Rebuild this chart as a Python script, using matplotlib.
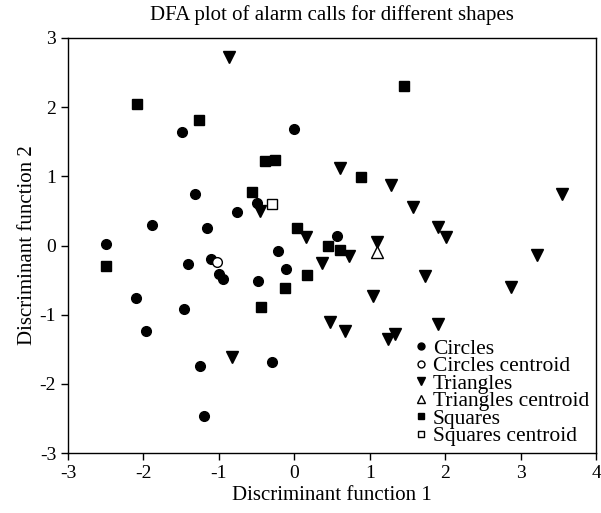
import matplotlib
matplotlib.use("Agg")
import matplotlib.pyplot as plt
from matplotlib.lines import Line2D

plt.rcParams['font.family'] = ['Liberation Serif', 'DejaVu Serif']
plt.rcParams['axes.unicode_minus'] = False

circles_x = [-1.49, 0.00, -1.32, -0.49, -0.76, -1.88, -1.16, -2.49, -0.22, 0.57, -1.41,
             -1.10, -1.00, -0.95, -0.11, -0.48, -2.10, -1.46, -1.96, -1.25, -0.30, -1.20]
circles_y = [1.64, 1.69, 0.74, 0.62, 0.48, 0.30, 0.25, 0.02, -0.08, 0.14, -0.27,
             -0.19, -0.41, -0.49, -0.34, -0.52, -0.76, -0.92, -1.24, -1.74, -1.68, -2.47]
circles_centroid = (-1.02, -0.24)

triangles_x = [-0.86, -0.45, 0.16, 0.60, 1.28, 3.55, 1.57, 1.90, 2.01, 1.10, 0.73,
               0.37, 3.22, 1.73, 2.87, 1.05, 0.47, 0.67, 1.24, 1.33, 1.91, -0.82]
triangles_y = [2.72, 0.50, 0.12, 1.12, 0.88, 0.75, 0.55, 0.27, 0.13, 0.05, -0.15,
               -0.25, -0.14, -0.44, -0.60, -0.73, -1.11, -1.24, -1.35, -1.28, -1.13, -1.61]
triangles_centroid = (1.10, -0.09)

squares_x = [-2.08, -1.26, 1.45, -0.39, -0.25, -0.56, 0.88, 0.03, 0.45, 0.60, -2.50,
             0.17, -0.12, -0.44]
squares_y = [2.05, 1.82, 2.31, 1.22, 1.24, 0.78, 0.99, 0.25, 0.00, -0.07, -0.30,
             -0.43, -0.61, -0.89]
squares_centroid = (-0.29, 0.60)

x_ticks = [-3, -2, -1, 0, 1, 2, 3, 4]
y_ticks = [-3, -2, -1, 0, 1, 2, 3]

fig = plt.figure(figsize=(6.01, 5.13), dpi=100)
ax = fig.add_axes([68/601, 1-453/513, (596-68)/601, (453-38)/513])

ax.plot(circles_x, circles_y, 'o', color='black', ms=7, ls='none')
ax.plot(*circles_centroid, 'o', mfc='white', mec='black', ms=7, mew=1)
ax.plot(triangles_x, triangles_y, 'v', color='black', ms=8, ls='none')
ax.plot(*triangles_centroid, '^', mfc='white', mec='black', ms=8, mew=1)
ax.plot(squares_x, squares_y, 's', color='black', ms=7, ls='none')
ax.plot(*squares_centroid, 's', mfc='white', mec='black', ms=7, mew=1)

ax.set_xlim(-3, 4)
ax.set_ylim(-3, 3)
ax.set_xticks(x_ticks)
ax.set_yticks(y_ticks)
ax.tick_params(direction='out', length=5, width=1, labelsize=14, colors='black')
for s in ax.spines.values():
    s.set_linewidth(1)
ax.set_xlabel('Discriminant function 1', fontsize=15, labelpad=3)
ax.set_ylabel('Discriminant function 2', fontsize=15, labelpad=2)
ax.set_title('DFA plot of alarm calls for different shapes', fontsize=15, pad=13)

handles = [
    Line2D([], [], marker='o', ls='none', color='black', ms=5),
    Line2D([], [], marker='o', ls='none', mfc='white', mec='black', ms=5),
    Line2D([], [], marker='v', ls='none', color='black', ms=6),
    Line2D([], [], marker='^', ls='none', mfc='white', mec='black', ms=6),
    Line2D([], [], marker='s', ls='none', color='black', ms=5),
    Line2D([], [], marker='s', ls='none', mfc='white', mec='black', ms=5),
]
labels = ['Circles', 'Circles centroid', 'Triangles', 'Triangles centroid',
          'Squares', 'Squares centroid']
ax.legend(handles, labels, loc='lower right', frameon=False, fontsize=15.5,
          handlelength=0.6, handletextpad=0.25, labelspacing=-0.12,
          borderaxespad=0.2, borderpad=0.12, bbox_to_anchor=(1.0, 0.0))

fig.savefig('out.png', dpi=100)
